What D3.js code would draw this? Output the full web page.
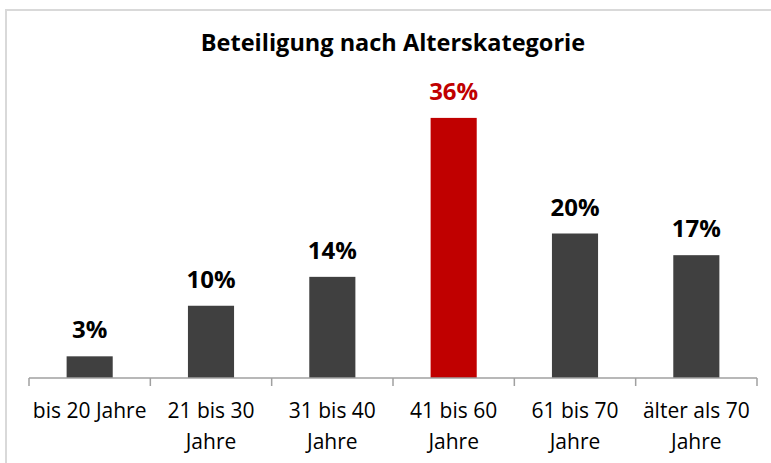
<!DOCTYPE html>
<html>
<head>
<meta charset="utf-8">
<script src="https://cdn.jsdelivr.net/npm/d3@7"></script>
<style>
  body { margin: 0; background: #fff; }
  text { font-family: "Open Sans", "Noto Sans", sans-serif; }
</style>
</head>
<body>
<div id="chart1"></div>
<script>
var categories = ['bis 20 Jahre', '21 bis 30 Jahre', '31 bis 40 Jahre', '41 bis 60 Jahre', '61 bis 70 Jahre', 'älter als 70 Jahre'];
var values = [3, 10, 14, 36, 20, 17];
var highlight = '41 bis 60 Jahre';

var margin = { top: 89, right: 14, bottom: 85, left: 29 };
var width = 771 - margin.left - margin.right,
    height = 463 - margin.top - margin.bottom;

var svg = d3.select('#chart1').append('svg')
  .attr('width', 771)
  .attr('height', 463);

// light frame, only top/left visible
svg.append('rect')
  .attr('x', 6).attr('y', 10)
  .attr('width', 800).attr('height', 500)
  .attr('fill', 'none')
  .attr('stroke', '#d9d9d9')
  .attr('stroke-width', 2);

svg.append('text')
  .attr('x', margin.left + width / 2)
  .attr('y', 51)
  .attr('text-anchor', 'middle')
  .style('font-size', '23.5px')
  .style('font-weight', 'bold')
  .text('Beteiligung nach Alterskategorie');

var g = svg.append('g')
  .attr('transform', 'translate(' + margin.left + ',' + margin.top + ')');

var x = d3.scaleBand()
  .domain(categories)
  .range([0, width])
  .paddingInner(0.62)
  .paddingOuter(0.31);

var y = d3.scaleLinear()
  .domain([0, 40])
  .range([height, 0]);

g.selectAll('rect.bar')
  .data(values)
  .enter().append('rect')
  .attr('class', 'bar')
  .attr('x', function(d, i) { return x(categories[i]); })
  .attr('width', x.bandwidth())
  .attr('y', function(d) { return y(d); })
  .attr('height', function(d) { return height - y(d); })
  .attr('fill', function(d, i) { return categories[i] == highlight ? '#c00000' : '#404040'; });

g.selectAll('text.val')
  .data(values)
  .enter().append('text')
  .attr('class', 'val')
  .attr('x', function(d, i) { return x(categories[i]) + x.bandwidth() / 2; })
  .attr('y', function(d) { return y(d) - 18; })
  .attr('text-anchor', 'middle')
  .style('font-size', '24px')
  .style('font-weight', 'bold')
  .attr('fill', function(d, i) { return categories[i] == highlight ? '#c00000' : '#000'; })
  .text(function(d) { return d + '%'; });

// axis line with ticks between categories
var step = x.step();
var axis = g.append('g').attr('transform', 'translate(0,' + height + ')');
axis.append('line')
  .attr('x1', 0).attr('x2', width)
  .attr('stroke', '#a0a0a0').attr('stroke-width', 1.5);
axis.selectAll('line.tick')
  .data(d3.range(categories.length + 1))
  .enter().append('line')
  .attr('class', 'tick')
  .attr('x1', function(i) { return i * step; })
  .attr('x2', function(i) { return i * step; })
  .attr('y1', 0).attr('y2', 8)
  .attr('stroke', '#a0a0a0').attr('stroke-width', 1.5);

var labels = axis.selectAll('text.cat')
  .data(categories)
  .enter().append('text')
  .attr('class', 'cat')
  .attr('x', function(d) { return x(d) + x.bandwidth() / 2; })
  .attr('y', 40)
  .attr('text-anchor', 'middle')
  .style('font-size', '21px')
  .attr('fill', '#000');

// wrap labels that are wider than a category step
labels.each(function(d) {
  var t = d3.select(this);
  t.text(d);
  if (this.getComputedTextLength() <= step) return;
  var words = d.split(' ');
  var last = words.pop();
  t.text(null);
  t.append('tspan').attr('x', t.attr('x')).text(words.join(' '));
  t.append('tspan').attr('x', t.attr('x')).attr('dy', 31).text(last);
});
</script>
</body>
</html>
